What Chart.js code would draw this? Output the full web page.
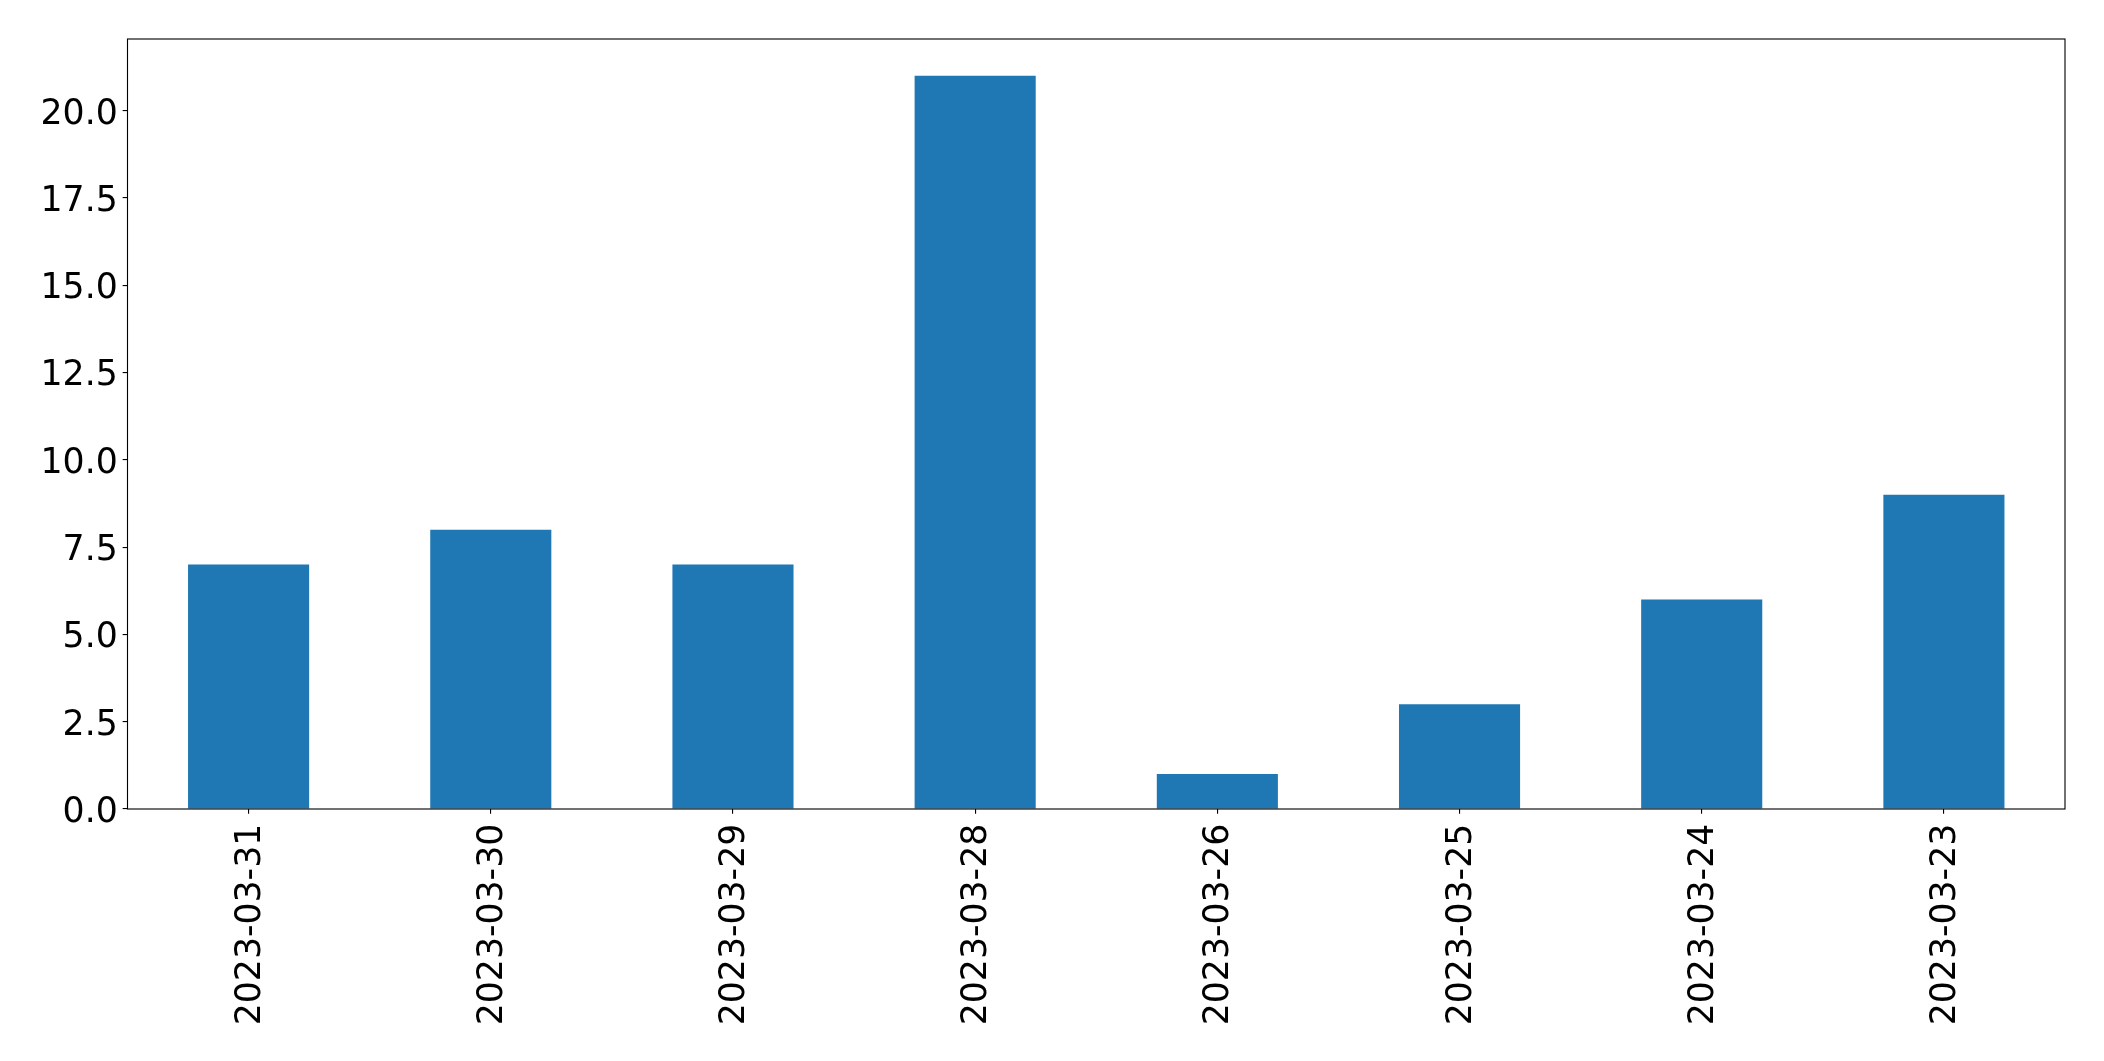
<!DOCTYPE html>
<html>
<head>
<meta charset="utf-8">
<script src="https://cdn.jsdelivr.net/npm/chart.js@4.4.1/dist/chart.umd.min.js"></script>
<style>
  html, body { margin: 0; padding: 0; background: #fff; }
  canvas { display: block; }
</style>
</head>
<body>
<canvas id="chart" width="2104" height="1061"></canvas>
<script>
  // data
  const dates = ['2023-03-31', '2023-03-30', '2023-03-29', '2023-03-28', '2023-03-26', '2023-03-25', '2023-03-24', '2023-03-23'];
  const counts = [7, 8, 7, 21, 1, 3, 6, 9];
  const yTicks = [0, 2.5, 5, 7.5, 10, 12.5, 15, 17.5, 20];
  const yMax = 22.05;

  const FONT = { family: "'DejaVu Sans', sans-serif", size: 34.7 };
  const TICK = 4.86;
  const LINE = 1.11;

  // full box around the plot area, like a matplotlib frame
  const frame = {
    id: 'frame',
    afterDraw(chart) {
      const a = chart.chartArea;
      const ctx = chart.ctx;
      ctx.save();
      ctx.strokeStyle = '#000';
      ctx.lineWidth = LINE;
      ctx.strokeRect(a.left, a.top, a.right - a.left, a.bottom - a.top);
      ctx.restore();
    }
  };

  new Chart(document.getElementById('chart').getContext('2d'), {
    type: 'bar',
    data: {
      labels: dates,
      datasets: [{
        data: counts,
        backgroundColor: '#1f77b4',
        borderWidth: 0,
        barPercentage: 0.5,
        categoryPercentage: 1.0
      }]
    },
    options: {
      responsive: false,
      animation: false,
      layout: { padding: { top: 39, right: 39, left: 0, bottom: 0 } },
      plugins: {
        legend: { display: false },
        tooltip: { enabled: false }
      },
      scales: {
        x: {
          grid: {
            offset: false,
            drawOnChartArea: false,
            tickLength: TICK,
            color: '#000',
            lineWidth: LINE
          },
          border: { display: false },
          ticks: {
            color: '#000',
            font: FONT,
            padding: TICK + 5,
            labelOffset: 2,
            autoSkip: false,
            minRotation: 90,
            maxRotation: 90
          },
          afterFit(scale) { scale.height = 252; }
        },
        y: {
          min: 0,
          max: yMax,
          grid: {
            drawOnChartArea: false,
            tickLength: TICK,
            color: '#000',
            lineWidth: LINE
          },
          border: { display: false },
          ticks: {
            color: '#000',
            font: FONT,
            padding: TICK,
            labelOffset: 4,
            callback: v => Number(v).toFixed(1)
          },
          afterBuildTicks(scale) { scale.ticks = yTicks.map(v => ({ value: v })); },
          afterFit(scale) { scale.width = 127.5; }
        }
      }
    },
    plugins: [frame]
  });
</script>
</body>
</html>
